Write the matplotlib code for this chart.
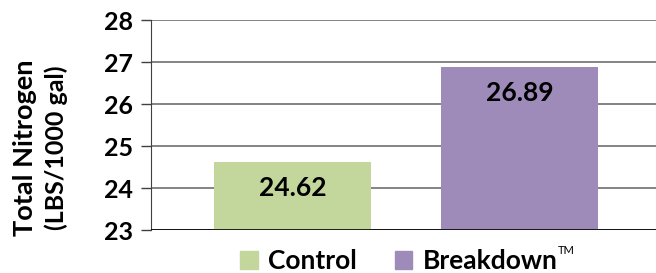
import matplotlib
matplotlib.use("Agg")
import matplotlib.pyplot as plt
from matplotlib.patches import Patch

categories = ["Control", "Breakdown\u2122"]
values = [24.62, 26.89]
labels = ["24.62", "26.89"]
colors = ["#c3d69b", "#9e8bb9"]
yticks = [23, 24, 25, 26, 27, 28]

plt.rcParams['font.family'] = ['Lato', 'DejaVu Sans']
fig = plt.figure(figsize=(6.56, 2.73), dpi=100)
ax = fig.add_axes([151/656, 43/273, 505/656, 210/273])
x = [0, 1]
ax.bar(x, [v - 23 for v in values], bottom=23, width=0.69, color=colors, zorder=3)
for xi, v, lab in zip(x, values, labels):
    ax.text(xi, v - 0.62, lab, ha='center', va='center', fontsize=19, fontweight='bold', zorder=4)
ax.set_ylim(23, 28)
ax.set_xlim(-0.623, 1.601)
ax.set_yticks(yticks)
ax.set_yticklabels([str(t) for t in yticks], fontsize=18, fontweight='bold')
ax.set_xticks([])
ax.grid(axis='y', color='#6e6e6e', linewidth=1.2, zorder=0)
for s in ['top', 'right', 'bottom']:
    ax.spines[s].set_visible(False)
ax.spines['left'].set_color('#404040')
ax.axhline(23, color='black', linewidth=1.2, zorder=5)
ax.tick_params(axis='y', length=7, width=1, color='#404040', pad=6)
fig.text(25/656, 125/273, "Total Nitrogen", rotation=90, ha='center', va='center', fontsize=19.5, fontweight='bold')
fig.text(56/656, 125/273, "(LBS/1000 gal)", rotation=90, ha='center', va='center', fontsize=18, fontweight='bold')
handles = [Patch(color=c) for c in colors]
fig.legend(handles, ["Control", "Breakdown"], loc='center left', bbox_to_anchor=(222/656, 12/273),
           ncol=2, frameon=False, prop={'size': 19, 'weight': 'bold'}, handlelength=0.65, handleheight=0.65,
           handletextpad=0.4, columnspacing=1.45, borderpad=0.2)
fig.text(558/656, 22/273, "TM", ha='left', va='center', fontsize=8)
fig.savefig("out.png", dpi=100)
